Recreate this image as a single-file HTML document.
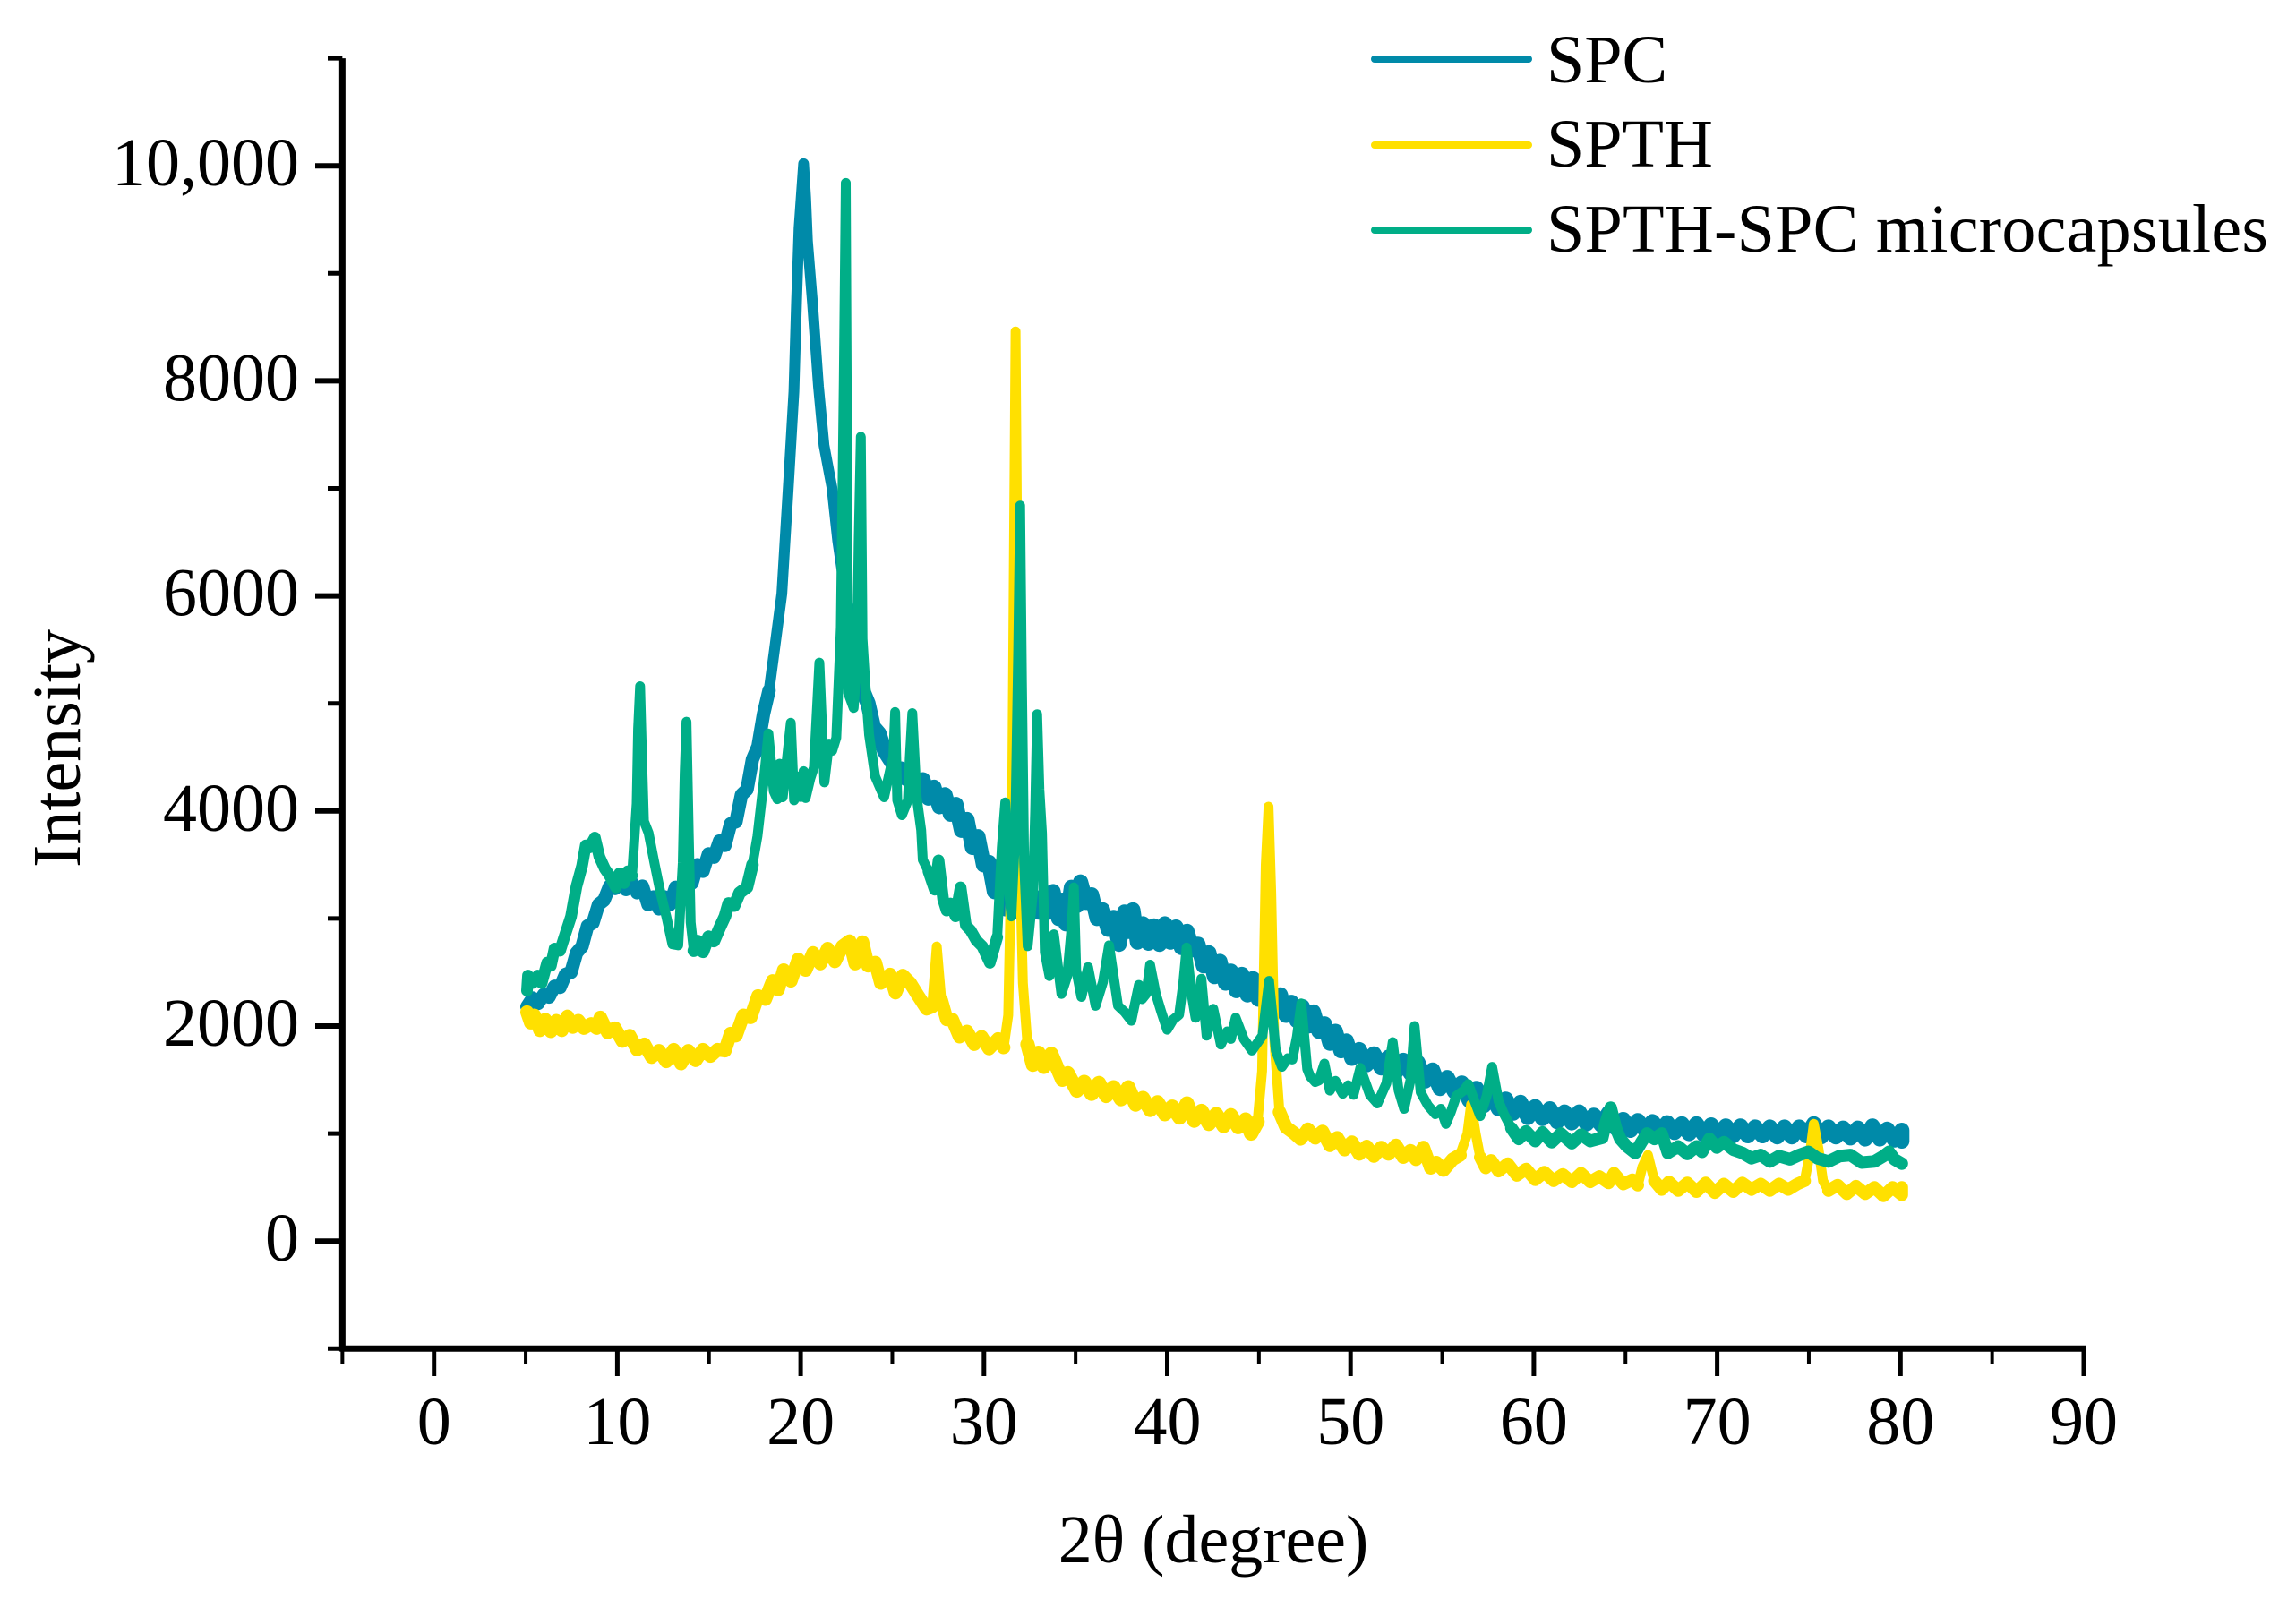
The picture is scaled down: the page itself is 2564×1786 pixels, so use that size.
<!DOCTYPE html>
<html lang="en">
<head>
<meta charset="utf-8">
<title>XRD patterns of SPC, SPTH and SPTH-SPC microcapsules</title>
<style>
html,body{margin:0;padding:0;background:#fff;}
svg{display:block;}
text{font-family:"Liberation Serif",serif;font-size:76px;fill:#000;}
</style>
</head>
<body>
<svg id="chart" width="2564" height="1786" viewBox="0 0 2564 1786" xmlns="http://www.w3.org/2000/svg">
  <rect x="0" y="0" width="2564" height="1786" fill="#ffffff"/>
  <g id="series" transform="translate(1.5 0)"></g>
  <g id="axes"></g>
  <text x="0" y="0" text-anchor="middle" transform="translate(89 836) rotate(-90)">Intensity</text>
  <text x="1355" y="1745" text-anchor="middle" font-family="Liberation Serif, DejaVu Serif, serif">2θ (degree)</text>
  <g>
    <line x1="1535" y1="66" x2="1707" y2="66" stroke="#008aa9" stroke-width="8" stroke-linecap="round"/>
    <text x="1727" y="92">SPC</text>
    <line x1="1535" y1="162" x2="1707" y2="162" stroke="#ffe000" stroke-width="8" stroke-linecap="round"/>
    <text x="1727" y="186">SPTH</text>
    <line x1="1535" y1="257" x2="1707" y2="257" stroke="#00ae87" stroke-width="8" stroke-linecap="round"/>
    <text x="1727" y="281" textLength="806">SPTH-SPC microcapsules</text>
  </g>
</svg>
<script>
// Tick values and labels
const xMajorTicks = [0,10,20,30,40,50,60,70,80,90];
const xMinorTicks = [-5,5,15,25,35,45,55,65,75,85];
const yMajorTicks = [0,2000,4000,6000,8000,10000];
const yMajorLabels = ["0","2000","4000","6000","8000","10,000"];
const yMinorTicks = [-1000,1000,3000,5000,7000,9000,11000];

// Series readings: [2-theta, intensity]
const spcPoints = [[5,2180],[5.3,2260],[5.6,2210],[5.9,2290],[6.2,2270],[6.5,2370],[6.8,2360],[7.1,2480],[7.4,2500],[7.7,2680],[8.0,2740],[8.3,2930],[8.6,2960],[8.9,3130],[9.2,3170],[9.5,3300],[9.8,3280],[10.1,3370],[10.4,3270],[10.7,3340],[11.0,3240],[11.3,3300],[11.6,3130],[11.9,3200],[12.2,3090],[12.5,3200],[12.8,3130],[13.1,3290],[13.4,3210],[13.7,3380],[14.0,3330],[14.3,3500],[14.6,3440],[14.9,3600],[15.2,3570],[15.5,3720],[15.8,3680],[16.1,3880],[16.4,3900],[16.7,4150],[17.0,4200],[17.3,4480],[17.6,4600],[17.9,4900],[18.2,5120],[18.5,5500],[18.9,6020],[19.27,7065],[19.56,7900],[19.7,8730],[19.84,9420],[20.09,10020],[20.2,9700],[20.3,9300],[20.57,8730],[20.9,7950],[21.2,7400],[21.63,7010],[21.95,6510],[22.3,6100],[22.7,5700],[23.3,5125],[23.6,5000],[23.9,4780],[24.2,4720],[24.5,4560],[24.8,4480],[25.1,4400],[25.4,4390],[25.7,4300],[26.0,4340],[26.3,4200],[26.6,4290],[26.9,4120],[27.2,4220],[27.5,4040],[27.8,4150],[28.1,3970],[28.4,4060],[28.7,3820],[29.0,3920],[29.3,3660],[29.6,3760],[29.9,3500],[30.2,3520],[30.5,3250],[30.8,3350],[31.1,3090],[31.4,3230],[31.7,3070],[32.0,3230],[32.3,3070],[32.6,3210],[32.9,3060],[33.2,3170],[33.5,3060],[33.7,3250],[34.0,3000],[34.2,3170],[34.4,2950],[34.7,3290],[35.0,3120],[35.2,3340],[35.5,3150],[35.8,3220],[36.1,3000],[36.4,3080],[36.7,2900],[37.0,3010],[37.3,2760],[37.6,3060],[37.8,2880],[38.05,3080],[38.3,2780],[38.6,2950],[38.9,2770],[39.2,2930],[39.5,2760],[39.8,2950],[40.1,2780],[40.4,2920],[40.7,2730],[41.0,2880],[41.3,2710],[41.6,2760],[41.9,2560],[42.2,2680],[42.5,2460],[42.8,2600],[43.1,2400],[43.4,2510],[43.7,2330],[44.0,2480],[44.3,2290],[44.6,2440],[44.9,2250],[45.2,2370],[45.5,2300],[45.8,2180],[46.1,2290],[46.4,2100],[46.7,2220],[47,2050],[47.3,2180],[47.6,2000],[47.9,2130],[48.2,1950],[48.5,2020],[48.8,1840],[49.1,1950],[49.4,1770],[49.7,1860],[50,1700],[50.4,1780],[50.8,1640],[51.2,1740],[51.6,1610],[52,1710],[52.4,1570],[52.8,1680],[53.2,1560],[53.6,1660],[54,1490],[54.4,1590],[54.8,1420],[55.2,1520],[55.6,1390],[56,1470],[56.4,1310],[56.8,1420],[57.2,1260],[57.6,1360],[58,1230],[58.4,1320],[58.8,1190],[59.2,1290],[59.6,1150],[60,1250],[60.4,1140],[60.8,1230],[61.2,1110],[61.6,1200],[62,1100],[62.4,1200],[62.8,1090],[63.2,1170],[63.6,1080],[64,1190],[64.4,1050],[64.8,1130],[65.2,1030],[65.6,1120],[66,1030],[66.4,1110],[66.8,1020],[67.2,1100],[67.6,1010],[68,1090],[68.4,1000],[68.8,1090],[69.2,990],[69.6,1080],[70,990],[70.4,1070],[70.8,980],[71.2,1070],[71.6,980],[72,1060],[72.4,980],[72.8,1060],[73.2,970],[73.6,1060],[74,970],[74.4,1060],[74.8,980],[75.2,1090],[75.6,970],[76,1060],[76.4,970],[76.8,1050],[77.2,960],[77.6,1050],[78,950],[78.4,1070],[78.8,950],[79.2,1040],[79.6,940],[80,1030],[80,930]];

const spthPoints = [[5,2130],[5.2,2030],[5.4,2100],[5.7,1960],[6,2060],[6.3,1950],[6.6,2050],[6.9,1960],[7.2,2090],[7.5,1990],[7.8,2050],[8.1,1980],[8.5,2020],[8.8,1980],[9.0,2080],[9.4,1940],[9.8,1980],[10.2,1860],[10.6,1910],[11,1780],[11.4,1830],[11.8,1710],[12.2,1770],[12.6,1670],[13,1780],[13.4,1650],[13.8,1770],[14.2,1680],[14.6,1780],[15,1720],[15.4,1780],[15.8,1770],[16.1,1930],[16.4,1910],[16.8,2100],[17.2,2080],[17.6,2280],[18,2250],[18.4,2420],[18.7,2340],[19,2520],[19.4,2420],[19.8,2620],[20.2,2520],[20.6,2680],[21,2580],[21.4,2720],[21.8,2600],[22.2,2740],[22.6,2790],[22.9,2580],[23.3,2780],[23.6,2560],[24,2590],[24.3,2400],[24.8,2480],[25.1,2310],[25.5,2470],[25.9,2400],[26.3,2290],[26.8,2160],[27.1,2180],[27.35,2740],[27.6,2240],[27.9,2060],[28.2,2060],[28.6,1900],[29,1950],[29.4,1830],[29.8,1900],[30.2,1790],[30.7,1880],[31,1800],[31.25,2100],[31.45,3800],[31.65,8460],[31.85,3800],[32.05,2400],[32.3,1830],[32.6,1640],[32.9,1750],[33.2,1620],[33.6,1740],[33.9,1620],[34.2,1500],[34.5,1560],[35,1400],[35.4,1480],[35.8,1370],[36.2,1470],[36.6,1350],[37,1430],[37.4,1320],[37.8,1430],[38.2,1270],[38.6,1330],[39,1220],[39.4,1290],[39.8,1180],[40.2,1250],[40.6,1150],[41,1280],[41.4,1120],[41.8,1210],[42.2,1090],[42.6,1180],[43,1070],[43.4,1170],[43.8,1060],[44.2,1130],[44.5,1000],[44.85,1110],[45.1,1580],[45.3,3500],[45.45,4040],[45.6,3240],[45.77,1860],[46.05,1200],[46.4,1060],[46.8,1010],[47.2,950],[47.6,1040],[48,960],[48.4,1020],[48.8,890],[49.2,960],[49.6,850],[50,920],[50.4,810],[50.8,880],[51.2,790],[51.6,870],[52,810],[52.4,890],[52.8,780],[53.2,840],[53.5,760],[53.9,870],[54.3,680],[54.6,730],[55,660],[55.5,760],[55.9,800],[56.3,1000],[56.5,1270],[56.75,1000],[57,780],[57.3,680],[57.6,750],[58,650],[58.5,720],[59,610],[59.5,670],[60,570],[60.5,640],[61,560],[61.5,620],[62,550],[62.5,630],[63,550],[63.5,600],[64,540],[64.3,630],[64.8,530],[65.3,570],[65.6,520],[65.85,690],[66.15,800],[66.5,560],[66.9,480],[67.3,550],[67.8,470],[68.3,540],[68.8,460],[69.3,540],[69.8,450],[70.3,530],[70.8,460],[71.3,540],[71.8,480],[72.3,530],[72.8,470],[73.3,530],[73.8,480],[74.3,530],[74.7,560],[75,830],[75.2,1090],[75.45,860],[75.7,560],[76,470],[76.5,520],[77,440],[77.5,510],[78,440],[78.5,500],[79,420],[79.5,500],[80,430],[80,500]];

const microcapsulePoints = [[5,2330],[5.05,2470],[5.3,2400],[5.6,2470],[5.8,2400],[6.1,2590],[6.3,2560],[6.5,2720],[6.8,2700],[7.1,2860],[7.4,3018],[7.7,3300],[8,3490],[8.2,3680],[8.4,3660],[8.7,3753],[8.95,3573],[9.25,3462],[9.5,3400],[9.85,3290],[10.05,3420],[10.3,3330],[10.5,3440],[10.73,3400],[10.98,4071],[11.06,4764],[11.17,5160],[11.3,4349],[11.38,3905],[11.63,3795],[11.95,3517],[12.28,3240],[12.6,3018],[12.93,2760],[13.25,2750],[13.5,3517],[13.6,4349],[13.7,4830],[13.82,3795],[13.93,2963],[14.1,2700],[14.3,2790],[14.6,2690],[14.9,2830],[15.2,2790],[15.5,2910],[15.8,3020],[16,3140],[16.3,3120],[16.6,3240],[17,3290],[17.3,3500],[17.57,3767],[17.89,4238],[18.17,4720],[18.46,4182],[18.65,4110],[18.78,4440],[18.95,4127],[19.15,4440],[19.39,4820],[19.57,4099],[19.8,4320],[19.95,4130],[20.09,4370],[20.2,4120],[20.45,4300],[20.65,4404],[20.95,5380],[21.22,4266],[21.47,4626],[21.65,4560],[21.87,4681],[22.12,5706],[22.28,8000],[22.39,9840],[22.45,7500],[22.52,5097],[22.82,4958],[23.0,5400],[23.09,6500],[23.21,7480],[23.3,5600],[23.45,5200],[23.66,4709],[23.99,4321],[24.48,4127],[24.8,4376],[24.98,4500],[25.08,4920],[25.2,4099],[25.45,3961],[25.78,4099],[25.88,4500],[26.02,4910],[26.26,4127],[26.5,3822],[26.59,3545],[26.9,3440],[27.24,3268],[27.45,3540],[27.7,3180],[27.89,3074],[28.1,3140],[28.38,3020],[28.65,3290],[28.94,2936],[29.2,2890],[29.51,2797],[29.84,2741],[30.25,2589],[30.65,2825],[30.9,3656],[31.09,4080],[31.3,3240],[31.42,3019],[31.63,3795],[31.8,5500],[31.9,6840],[32.0,5200],[32.12,3518],[32.31,2742],[32.6,3240],[32.72,4000],[32.83,4900],[32.95,4200],[33.09,3795],[33.25,2686],[33.5,2465],[33.74,2853],[34.15,2298],[34.47,2465],[34.7,2900],[34.83,3290],[34.96,2520],[35.24,2271],[35.61,2548],[36.02,2188],[36.42,2409],[36.75,2750],[37.24,2188],[37.6,2130],[37.97,2049],[38.38,2382],[38.55,2250],[38.78,2298],[38.99,2570],[39.3,2300],[39.6,2132],[39.92,1966],[40.25,2060],[40.57,2104],[40.8,2400],[40.98,2730],[41.25,2300],[41.47,2077],[41.79,2440],[42.07,1910],[42.44,2160],[42.85,1827],[43.2,1950],[43.4,1880],[43.66,2077],[44.1,1880],[44.55,1772],[45.12,1910],[45.48,2420],[45.85,1772],[46.18,1620],[46.5,1700],[46.75,1689],[47.0,1900],[47.24,2210],[47.56,1600],[47.73,1530],[48.0,1480],[48.2,1494],[48.5,1650],[48.8,1400],[49.1,1490],[49.5,1370],[49.8,1450],[50.09,1360],[50.46,1610],[50.98,1360],[51.39,1280],[51.88,1467],[52.23,1850],[52.55,1400],[52.85,1230],[53.2,1500],[53.42,2000],[53.75,1384],[54.15,1260],[54.56,1180],[54.85,1230],[55.13,1090],[55.4,1200],[55.7,1350],[56.1,1400],[56.35,1460],[56.7,1300],[57,1162],[57.35,1350],[57.65,1620],[58,1300],[58.3,1180],[58.7,1050],[59.1,950],[59.5,1020],[60,930],[60.4,1010],[60.9,920],[61.4,1000],[62,910],[62.5,990],[63,930],[63.66,960],[63.85,1100],[64.12,1240],[64.4,1050],[64.64,950],[65,880],[65.45,820],[65.8,920],[66.1,1000],[66.5,950],[66.9,1000],[67.24,820],[67.8,880],[68.3,810],[68.8,880],[69.1,830],[69.5,950],[69.9,870],[70.3,920],[70.8,850],[71.3,820],[71.8,770],[72.3,800],[72.8,740],[73.3,790],[73.9,760],[74.4,800],[74.9,830],[75.4,770],[76,740],[76.6,790],[77.2,800],[77.8,730],[78.5,740],[79,790],[79.3,830],[79.6,760],[80,720]];

const NS = 'http://www.w3.org/2000/svg';
const xScale = v => 484.7 + 20.47 * v;
const yScale = v => 1386.2 - 0.1201 * v;
const axesLayer = document.getElementById('axes');
const seriesLayer = document.getElementById('series');

function makeLine(x1, y1, x2, y2, width) {
  const el = document.createElementNS(NS, 'line');
  el.setAttribute('x1', x1);
  el.setAttribute('y1', y1);
  el.setAttribute('x2', x2);
  el.setAttribute('y2', y2);
  el.setAttribute('stroke', '#000');
  el.setAttribute('stroke-width', width);
  return el;
}

function makeText(x, y, anchor, content) {
  const el = document.createElementNS(NS, 'text');
  el.setAttribute('x', x);
  el.setAttribute('y', y);
  el.setAttribute('text-anchor', anchor);
  el.textContent = content;
  return el;
}

function toPointString(points) {
  return points.map(p => xScale(p[0]).toFixed(1) + ',' + yScale(p[1]).toFixed(1)).join(' ');
}

// A series is a thin trace for its sharp peaks, plus a heavier trace over its noisy stretches
function drawSeries(points, color, width, name, noisy) {
  const el = document.createElementNS(NS, 'polyline');
  el.setAttribute('points', toPointString(points));
  el.setAttribute('fill', 'none');
  el.setAttribute('stroke', color);
  el.setAttribute('stroke-width', width);
  el.setAttribute('stroke-linejoin', 'round');
  el.setAttribute('stroke-linecap', 'round');
  
  
  seriesLayer.appendChild(el);
  noisy.forEach(r => {
    const band = document.createElementNS(NS, 'polyline');
    band.setAttribute('points', toPointString(points.filter(p => p[0] >= r[0] && p[0] <= r[1])));
    band.setAttribute('fill', 'none');
    band.setAttribute('stroke', color);
    band.setAttribute('stroke-width', r[2]);
    band.setAttribute('stroke-linejoin', 'round');
    band.setAttribute('stroke-linecap', 'round');
    
    
    seriesLayer.appendChild(band);
  });
}
drawSeries(spcPoints, '#008aa9', 12, 'series-spc', [[5,18.2,15],[23.3,80,17]]);
drawSeries(spthPoints, '#ffe000', 11, 'series-spth', [[5,27.1,15],[27.6,31,15],[32.3,44.85,16],[46.05,55.9,15],[57,65.6,14],[66.5,74.7,14],[75.9,80,14]]);
drawSeries(microcapsulePoints, '#00ae87', 11, 'series-spth-spc-microcapsules', [[5,10.73,13],[14.1,17.3,14],[26.9,30.65,13],[58.7,80,14]]);

// Axis lines
const yAxisLine = makeLine(xScale(-5), yScale(11000), xScale(-5), yScale(-1000) + 3, 7);


axesLayer.appendChild(yAxisLine);

const xAxisLine = makeLine(xScale(-5) - 3, yScale(-1000), xScale(90) + 3, yScale(-1000), 7);


axesLayer.appendChild(xAxisLine);

// X ticks
xMajorTicks.forEach(v => {
  const tick = makeLine(xScale(v), yScale(-1000), xScale(v), 1537, 5);
  
  
  axesLayer.appendChild(tick);
  const label = makeText(xScale(v), 1613, 'middle', String(v));
  
  
  axesLayer.appendChild(label);
});
xMinorTicks.forEach(v => {
  const tick = makeLine(xScale(v), yScale(-1000), xScale(v), 1523, 4);
  
  
  axesLayer.appendChild(tick);
});

// Y ticks
yMajorTicks.forEach((v, i) => {
  const tick = makeLine(352, yScale(v), xScale(-5), yScale(v), 6);
  
  
  axesLayer.appendChild(tick);
  const label = makeText(334, yScale(v) + 22, 'end', yMajorLabels[i]);
  
  
  axesLayer.appendChild(label);
});
yMinorTicks.forEach(v => {
  const tick = makeLine(366, yScale(v), xScale(-5), yScale(v), 5);
  
  
  axesLayer.appendChild(tick);
});
</script>
</body>
</html>
